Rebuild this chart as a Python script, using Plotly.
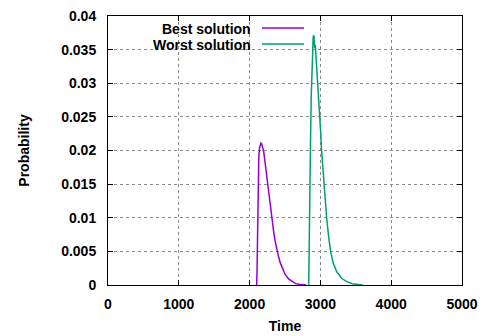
import plotly.graph_objects as go

best_time = [2090, 2100, 2105, 2110, 2115, 2120, 2130, 2140, 2150, 2160, 2170, 2180, 2190, 2200,
             2220, 2240, 2260, 2280, 2300, 2320, 2340, 2360, 2380, 2400, 2430, 2460, 2500,
             2550, 2600, 2650, 2700, 2750, 2800]
best_prob = [0.0, 0.0, 0.002, 0.007, 0.012, 0.0155, 0.019, 0.0204, 0.0210, 0.0211, 0.0210, 0.0207,
             0.0203, 0.0198, 0.0181, 0.0163, 0.0145, 0.0127, 0.0110, 0.0094, 0.0079, 0.0066,
             0.0055, 0.0046, 0.0034, 0.0025, 0.0016, 0.0009, 0.0005, 0.0002, 0.0001, 0.00003, 0.0]

worst_time = [2835, 2840, 2850, 2860, 2870, 2880, 2890, 2895, 2900, 2905, 2910, 2915, 2920, 2928,
              2935, 2947, 2960, 2971, 2983, 2994, 3005, 3017, 3034, 3051, 3070, 3088, 3115,
              3144, 3180, 3229, 3300, 3371, 3450, 3520, 3600]
worst_prob = [0.0, 0.003, 0.012, 0.021, 0.028, 0.0335, 0.0342, 0.036, 0.0371, 0.0368, 0.0370,
              0.0358, 0.0352, 0.0357, 0.0345, 0.0332, 0.0315, 0.030, 0.0275, 0.025, 0.0225,
              0.020, 0.0175, 0.015, 0.0124, 0.010, 0.0073, 0.005, 0.0033, 0.002, 0.0010,
              0.0005, 0.0002, 0.00007, 0.0]

series_names = ["Best solution", "Worst solution"]
series_colors = ["#9400d3", "#009e73"]

x_ticks = [0, 1000, 2000, 3000, 4000, 5000]
y_ticks = [0, 0.005, 0.01, 0.015, 0.02, 0.025, 0.03, 0.035, 0.04]

font_family = "Liberation Sans, Arial, sans-serif"

fig = go.Figure()
for t, p, name, col in [(best_time, best_prob, series_names[0], series_colors[0]),
                        (worst_time, worst_prob, series_names[1], series_colors[1])]:
    fig.add_trace(go.Scatter(x=t, y=p, mode="lines", name=name,
                             line=dict(color=col, width=1.5), showlegend=False))

# page body has an 8px margin, so the figure is laid out 8px smaller and shifted
W, H = 481, 328
L, R, T, B = 100, 27, 8, 51
pw, ph = W - L - R, H - T - B
OFF = 8  # page offset

# gnuplot-style legend: right-justified text, sample line to the right (page px)
leg_text_x = (253 - OFF - L) / pw
leg_line_x0 = (262 - OFF - L) / pw
leg_line_x1 = (304 - OFF - L) / pw
leg_rows_px = [28, 44]
for name, col, ypx in zip(series_names, series_colors, leg_rows_px):
    yp = 1 - (ypx - OFF - T) / ph
    fig.add_annotation(x=leg_text_x, y=yp, xref="paper", yref="paper", text=name,
                       showarrow=False, xanchor="right", yanchor="middle", height=15,
                       font=dict(family=font_family, size=14, color="black", weight="bold"))
    fig.add_shape(type="line", xref="paper", yref="paper", x0=leg_line_x0, x1=leg_line_x1,
                  y0=yp, y1=yp, line=dict(color=col, width=1.5))

axis_common = dict(
    showline=True, linecolor="black", linewidth=1, mirror="ticks",
    ticks="inside", ticklen=5, tickcolor="black", tickwidth=1,
    showgrid=True, gridcolor="#8a8a8a", griddash="dot", gridwidth=1,
    zeroline=False, automargin=False, ticklabeloverflow="allow",
    tickfont=dict(family=font_family, size=14, color="black", weight="bold"),
)

title_font = dict(family=font_family, size=14, color="black", weight="bold")
fig.update_xaxes(range=[0, 5000], tickvals=x_ticks, ticktext=[str(v) for v in x_ticks],
                 title=dict(text="Time", standoff=10, font=title_font),
                 ticklabelstandoff=6, **axis_common)
fig.update_yaxes(range=[0, 0.04], tickvals=y_ticks, ticktext=[f"{v:g}" for v in y_ticks],
                 title=dict(text="Probability", standoff=28, font=title_font),
                 ticklabelstandoff=8, **axis_common)

fig.update_layout(width=W, height=H, margin=dict(l=L, r=R, t=T, b=B),
                  plot_bgcolor="white", paper_bgcolor="white")

fig.write_html("out.html")
